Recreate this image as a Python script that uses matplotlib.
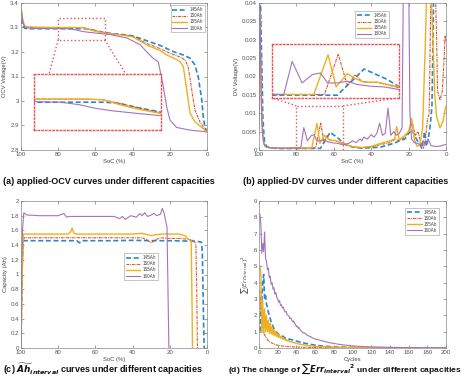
import matplotlib
matplotlib.use('Agg')
import matplotlib.pyplot as plt
from matplotlib.ticker import FuncFormatter, MultipleLocator
from matplotlib.patches import Rectangle

plt.rcParams['font.family'] = ['Liberation Sans', 'DejaVu Sans']
plt.rcParams['mathtext.fontset'] = 'dejavusans'

# ---------------- data ----------------
labels = ['145Ah', '150Ah', '155Ah', '160Ah']

# (a) OCV curves
soc_a_145 = [100, 99.5, 99, 98, 96, 90, 80, 70, 66, 63, 60, 55, 50, 45, 40, 32, 25, 18, 12, 9, 6.5, 4.7, 2.8, 2.0, 1.1, 0]
ocv_145 = [3.335, 3.32, 3.305, 3.297, 3.295, 3.295, 3.295, 3.295, 3.295, 3.293, 3.2872, 3.2793, 3.274, 3.271, 3.266,
           3.245, 3.226, 3.201, 3.186, 3.174, 3.147, 3.099, 3.004, 2.936, 2.89, 2.88]
soc_a_150 = [100, 99.5, 99, 98, 96, 90, 80, 70, 66.4, 63, 60, 55, 50, 45, 40, 32.4, 25, 19.9, 14, 11.8, 10.1, 8.2, 6.5, 3.8, 1.1, 0]
ocv_150 = [3.37, 3.35, 3.32, 3.305, 3.301, 3.300, 3.300, 3.300, 3.299, 3.293, 3.287, 3.278, 3.273, 3.270, 3.265,
           3.235, 3.213, 3.195, 3.178, 3.167, 3.14, 3.045, 2.963, 2.915, 2.884, 2.88]
soc_a_155 = [100, 99.5, 99, 98, 96, 90, 80, 70, 66.4, 63, 60, 55, 50, 45, 40, 32.4, 25, 21.7, 16, 14.5, 12.7, 10.9, 9.1, 6.5, 1.1, 0]
ocv_155 = [3.38, 3.36, 3.33, 3.306, 3.302, 3.301, 3.300, 3.300, 3.299, 3.291, 3.285, 3.277, 3.272, 3.268, 3.262,
           3.229, 3.205, 3.188, 3.168, 3.16, 3.14, 3.045, 2.95, 2.915, 2.881, 2.875]
soc_a_160 = [100, 99.5, 99, 98, 96, 90, 80, 74.7, 71.1, 67.8, 64.5, 59.9, 55, 52, 43, 36, 32.3, 28.9, 26.2, 25.3,
             23.5, 21.7, 19.9, 16.3, 9.1, 1.1, 0]
ocv_160 = [3.37, 3.35, 3.32, 3.302, 3.298, 3.296, 3.2958, 3.295, 3.2911, 3.2852, 3.2813, 3.2774, 3.2735, 3.271, 3.257,
           3.23, 3.2, 3.174, 3.16, 3.127, 3.058, 2.977, 2.922, 2.892, 2.881, 2.875, 2.873]

# (b) DV curves
soc_b_145 = [100, 99.6, 99.3, 99, 98.5, 98, 97.5, 97, 96, 94, 90, 85, 80, 67.2, 65.5, 61.9, 59.9, 57.3, 55, 50, 45, 40,
             35, 30, 27, 25, 22, 20, 18, 17, 15.5, 14, 13, 12, 11.5, 10.5, 9.5, 8.5, 7.5, 6.5, 5, 3, 1.5, 0.5, 0]
dv_145 = [0.011, 0.03, 0.045, 0.035, 0.023, 0.01, 0.005, 0.002, 0.001, 0.0006, 0.0004, 0.0004, 0.00044, 0.00044,
          0.00183, 0.00483, 0.00406, 0.00306, 0.00183, 0.0008, 0.0005, 0.0006, 0.0008, 0.0015, 0.002, 0.0025, 0.003,
          0.0045, 0.0055, 0.004, 0.0027, 0.0015, 0.0005, 0.003, 0.005, 0.001, 0.003, 0.0064, 0.012, 0.045, 0.05, 0.05,
          0.05, 0.045, 0.04]
soc_b_150 = [100, 99.6, 99.3, 99, 98.5, 98, 97.5, 97, 96, 94, 90, 85, 80, 69.7, 67.0, 65.2, 63.75, 62.4, 60.9, 59.3, 55,
             50, 45, 40, 35, 30, 27, 25, 22, 20, 18, 16.5, 15, 13.5, 12, 11, 10, 9, 8, 7, 6, 5, 4.5, 3.2, 2, 1, 0.5, 0]
dv_150 = [0.022, 0.036, 0.03, 0.02, 0.008, 0.004, 0.002, 0.0012, 0.0008, 0.0006, 0.0005, 0.0005, 0.00056, 0.00056,
          0.00733, 0.00206, 0.00389, 0.00278, 0.00261, 0.00261, 0.00167, 0.0008, 0.0006, 0.0008, 0.0015, 0.002, 0.003,
          0.0025, 0.0035, 0.005, 0.0075, 0.004, 0.005, 0.002, 0.0005, 0.003, 0.008, 0.01, 0.045, 0.05, 0.05, 0.03,
          0.016, 0.0136, 0.016, 0.025, 0.031, 0.03]
soc_b_155 = [100, 99.6, 99.3, 99, 98.5, 98, 97.5, 97, 96, 94, 90, 85, 80, 71.8, 69.0, 67.4, 65.2, 63.9, 61.9, 59.3, 55,
             50, 45, 40, 35, 30, 27.5, 26.4, 25, 22, 20, 18.4, 17, 15.5, 14, 12.5, 11, 10, 8.5, 7, 6, 5, 3.2, 1.5, 0.5, 0]
dv_155 = [0.03, 0.038, 0.032, 0.02, 0.01, 0.004, 0.002, 0.0012, 0.0008, 0.0006, 0.0005, 0.0005, 0.00056, 0.00056,
          0.00722, 0.00183, 0.00406, 0.00333, 0.00261, 0.00261, 0.00183, 0.0009, 0.0007, 0.001, 0.0018, 0.0025, 0.003,
          0.0064, 0.0028, 0.004, 0.005, 0.0086, 0.003, 0.001, 0.0015, 0.006, 0.03, 0.05, 0.05, 0.03, 0.015, 0.009,
          0.006, 0.008, 0.011, 0.012]
soc_b_160 = [100, 99.6, 99.3, 99, 98.5, 98, 97.5, 97, 96, 94, 90, 85, 80, 77.7, 76.05, 74.1, 72.1, 70.5, 69.1, 67.2,
             65.2, 63.2, 60.6, 58.0, 55, 52, 50, 48, 46, 45, 44, 42, 40, 38.5, 37, 35.5, 34, 32.5, 31, 29.5, 28, 26.5,
             25, 23.5, 22.8, 21.5, 20, 19.3, 18.4, 17, 15, 13, 11, 9.5, 8, 6, 4, 2, 0.5, 0]
dv_160 = [0.006, 0.038, 0.03, 0.02, 0.008, 0.004, 0.002, 0.0012, 0.0008, 0.0006, 0.0005, 0.0005, 0.00056, 0.00056,
          0.00611, 0.0025, 0.00389, 0.00417, 0.0025, 0.0025, 0.00278, 0.00222, 0.00194, 0.00183, 0.00139, 0.0018,
          0.0025, 0.002, 0.003, 0.0025, 0.0035, 0.003, 0.0042, 0.0035, 0.0045, 0.0073, 0.004, 0.0045, 0.0114, 0.004,
          0.005, 0.004, 0.0045, 0.006, 0.045, 0.05, 0.05, 0.01, 0.003, 0.002, 0.0018, 0.0012, 0.0015, 0.003, 0.0012,
          0.001, 0.001, 0.0012, 0.0015, 0.0015]

# (c) capacity curves
soc_c_145 = [100, 99.5, 99, 97, 90, 80, 70, 68.5, 67, 60, 50, 40, 30, 20, 10, 5, 3, 2.5, 1.8, 1.5]
cap_145 = [0, 1.0, 1.46, 1.46, 1.46, 1.46, 1.46, 1.43, 1.46, 1.46, 1.46, 1.465, 1.46, 1.46, 1.455, 1.45, 1.44, 1.3, 0.3, 0.0]
soc_c_150 = [100, 99.5, 98.8, 98, 90, 80, 70, 60, 50, 40, 35, 32, 30, 28, 25, 20, 15, 10, 7, 6, 5.5, 5.2, 5.0]
cap_150 = [0, 0.8, 1.48, 1.5, 1.5, 1.5, 1.5, 1.5, 1.5, 1.5, 1.5, 1.47, 1.43, 1.47, 1.5, 1.49, 1.49, 1.48, 1.46, 1.42, 0.8, 0.1, 0.0]
soc_c_155 = [100, 99.5, 98.8, 98, 90, 80, 75, 73.5, 72.5, 71.5, 70, 60, 50, 40, 35, 30, 25, 20, 15, 12, 10, 8.5, 8.0, 7.8]
cap_155 = [0, 0.9, 1.55, 1.55, 1.55, 1.55, 1.55, 1.57, 1.63, 1.56, 1.55, 1.55, 1.55, 1.55, 1.56, 1.53, 1.55, 1.55, 1.55,
           1.53, 1.48, 1.45, 0.5, 0.0]
soc_c_160 = [100, 99.6, 99.2, 98.5, 97, 90, 80, 77, 75.5, 74, 70, 60, 50, 47, 45.5, 44, 41, 38, 36, 35, 33.5, 32, 30,
             28.5, 27, 25, 24, 23, 22, 21.5, 20.8, 20.5]
cap_160 = [0, 1.2, 1.6, 1.84, 1.81, 1.80, 1.80, 1.83, 1.78, 1.79, 1.79, 1.79, 1.79, 1.76, 1.79, 1.75, 1.80, 1.78, 1.83,
           1.80, 1.84, 1.79, 1.81, 1.83, 1.80, 1.82, 1.90, 1.83, 1.70, 1.65, 0.5, 0.0]

# (d) sum of squared errors vs cycles
cyc_145 = [1, 2, 3, 4, 5, 6, 7, 8, 9, 10, 11, 12, 13, 14, 15, 16, 17, 18, 19, 20, 22, 24, 26, 28, 30, 32, 34, 36, 38,
           40, 43, 46, 50, 55, 60, 65, 70, 80, 90, 100, 120, 150, 200]
err_145 = [1.0, 2.2, 3.0, 4.0, 4.5, 3.0, 3.2, 2.7, 2.5, 2.2, 2.0, 1.8, 1.6, 1.5, 1.3, 1.2, 1.1, 1.05, 0.95, 0.9, 0.8,
           0.75, 0.7, 0.6, 0.62, 0.55, 0.52, 0.5, 0.45, 0.42, 0.38, 0.33, 0.28, 0.22, 0.18, 0.14, 0.11, 0.07, 0.05,
           0.03, 0.02, 0.01, 0.0]
cyc_150 = [1, 2, 3, 4, 5, 6, 7, 8, 10, 12, 14, 16, 18, 20, 25, 30, 40, 50, 60, 80, 100, 150, 200]
err_150 = [3.5, 2.3, 1.6, 1.2, 1.0, 0.8, 0.7, 0.6, 0.45, 0.35, 0.3, 0.25, 0.2, 0.17, 0.12, 0.09, 0.06, 0.04, 0.03,
           0.02, 0.01, 0.01, 0.0]
cyc_155 = list(range(1, 41)) + [45, 50, 55, 60, 70, 80, 100, 120, 150, 200]
err_155 = [5.0, 4.6, 1.0, 2.9, 0.9, 2.4, 1.0, 2.0, 1.0, 1.7, 0.9, 1.5, 0.85, 1.3, 0.8, 1.15, 0.75, 1.0, 0.7, 0.9,
           0.65, 0.8, 0.6, 0.7, 0.55, 0.62, 0.5, 0.55, 0.45, 0.5, 0.42, 0.45, 0.38, 0.4, 0.35, 0.36, 0.32, 0.33, 0.3,
           0.28, 0.22, 0.17, 0.13, 0.1, 0.07, 0.05, 0.03, 0.02, 0.01, 0.0]
cyc_160 = list(range(1, 61)) + [65, 70, 75, 80, 85, 90, 95, 100, 110, 120, 130, 140, 150, 160, 175, 200]
err_160 = [8.2, 7.5, 5.8, 6.4, 5.9, 7.1, 5.5, 5.3, 4.8, 4.9, 4.3, 4.4, 3.9, 4.0, 3.6, 3.7, 3.3, 3.4, 3.1, 3.0,
           2.8, 2.9, 2.6, 2.65, 2.45, 2.5, 2.3, 2.2, 2.25, 2.05, 2.0, 1.95, 1.8, 1.85, 1.7, 1.6, 1.65, 1.5, 1.45, 1.3,
           1.35, 1.2, 1.25, 1.1, 1.05, 1.0, 0.95, 0.9, 0.92, 0.85, 0.8, 0.78, 0.75, 0.7, 0.72, 0.65, 0.63, 0.6, 0.58,
           0.55, 0.48, 0.4, 0.33, 0.28, 0.23, 0.19, 0.16, 0.13, 0.09, 0.07, 0.05, 0.04, 0.03, 0.02, 0.015, 0.01]

# zoom boxes
a_zoom_x, a_zoom_y = (80, 55), (3.25, 3.34)
a_box_x, a_box_y = (93, 25), (2.88, 3.11)
b_zoom_x, b_zoom_y = (80, 55), (0.0, 0.012)
b_inset_ylim = (0.0, 0.009)
b_box_x, b_box_y = (93, 25), (0.0142, 0.0288)

# ---------------- style ----------------
colors = ['#2a86d1', '#d9541e', '#edb120', '#a274bd']
lstyles = [(0, (3, 1.6)), (0, (2.5, 0.8, 0.8, 0.8)), '-', '-']
lwidths = [1.2, 0.8, 1.0, 0.8]
box_color = '#e8505a'

W, H = 474, 387
fig = plt.figure(figsize=(W / 100, H / 100), dpi=100)


def px_axes(x0, y0, x1, y1):
    return fig.add_axes([x0 / W, 1 - y1 / H, (x1 - x0) / W, (y1 - y0) / H])


fmt = FuncFormatter(lambda v, p: f'{v:g}')


def style(ax):
    for s in ax.spines.values():
        s.set_color('#8a8a8a')
        s.set_linewidth(0.5)
    ax.tick_params(direction='in', length=2, width=0.4, labelsize=4.4, colors='#555555',
                   top=True, right=True, pad=1.5)
    ax.yaxis.set_major_formatter(fmt)
    ax.xaxis.set_major_formatter(fmt)


def draw(ax, xs, ys, **kw):
    for x, y, c, ls, lw, lab in zip(xs, ys, colors, lstyles, lwidths, labels):
        ax.plot(x, y, color=c, ls=ls, lw=lw, label=lab, **kw)


def legend(ax, bbox, loc='upper left'):
    lg = ax.legend(loc=loc, bbox_to_anchor=bbox, fontsize=3.3, handlelength=3.2, handletextpad=0.5,
                   borderpad=0.4, labelspacing=0.25, fancybox=False, framealpha=1)
    lg.get_frame().set_edgecolor('#999999')
    lg.get_frame().set_linewidth(0.4)
    for t in lg.get_texts():
        t.set_color('#444444')


def frac(ax, x, y):
    return ax.transAxes.inverted().transform(ax.transData.transform((x, y)))


def zoom_decor(ax, zx, zy, bx, by, ylim_in, xs, ys):
    ax.add_patch(Rectangle((min(zx), zy[0]), abs(zx[0] - zx[1]), zy[1] - zy[0], fill=False,
                           ec=box_color, ls=':', lw=1.0, zorder=5))
    yc = zy[1] if zy[0] == 0 else zy[0]
    ax.plot([zx[0], bx[0]], [yc, by[0]], color=box_color, ls=':', lw=1.0, zorder=5)
    ax.plot([zx[1], bx[1]], [yc, by[0]], color=box_color, ls=':', lw=1.0, zorder=5)
    p0 = frac(ax, bx[0], by[0])
    p1 = frac(ax, bx[1], by[1])
    ins = ax.inset_axes([p0[0], p0[1], p1[0] - p0[0], p1[1] - p0[1]])
    draw(ins, xs, ys)
    ins.set_xlim(*zx)
    ins.set_ylim(*ylim_in)
    ins.set_xticks([])
    ins.set_yticks([])
    for s in ins.spines.values():
        s.set_color(box_color)
        s.set_linestyle(':')
        s.set_linewidth(1.0)
    return ins


lab_kw = dict(fontsize=4.2, color='#444444')

# ---------------- panel (a) ----------------
axa = px_axes(21, 3, 207, 150)
style(axa)
draw(axa, [soc_a_145, soc_a_150, soc_a_155, soc_a_160], [ocv_145, ocv_150, ocv_155, ocv_160])
axa.set_xlim(100, 0)
axa.set_ylim(2.8, 3.4)
axa.yaxis.set_major_locator(MultipleLocator(0.1))
axa.xaxis.set_major_locator(MultipleLocator(20))
axa.set_xlabel('SoC (%)', labelpad=1.5, **lab_kw)
axa.set_ylabel('OCV Voltage(V)', labelpad=2, **lab_kw)
legend(axa, (1.0, 1.0), loc='upper right')
zoom_decor(axa, a_zoom_x, a_zoom_y, a_box_x, a_box_y, a_zoom_y,
           [soc_a_145, soc_a_150, soc_a_155, soc_a_160], [ocv_145, ocv_150, ocv_155, ocv_160])

# ---------------- panel (b) ----------------
axb = px_axes(259, 3, 446, 150)
style(axb)
draw(axb, [soc_b_145, soc_b_150, soc_b_155, soc_b_160], [dv_145, dv_150, dv_155, dv_160])
axb.set_xlim(100, 0)
axb.set_ylim(0, 0.04)
axb.yaxis.set_major_locator(MultipleLocator(0.005))
axb.xaxis.set_major_locator(MultipleLocator(20))
axb.set_xlabel('SoC (%)', labelpad=1.5, **lab_kw)
axb.set_ylabel('DV Voltage(V)', labelpad=2, **lab_kw)
legend(axb, (0.50, 0.96))
zoom_decor(axb, b_zoom_x, b_zoom_y, b_box_x, b_box_y, b_inset_ylim,
           [soc_b_145, soc_b_150, soc_b_155, soc_b_160], [dv_145, dv_150, dv_155, dv_160])

# ---------------- panel (c) ----------------
axc = px_axes(21, 201, 207, 348)
style(axc)
draw(axc, [soc_c_145, soc_c_150, soc_c_155, soc_c_160], [cap_145, cap_150, cap_155, cap_160])
axc.set_xlim(100, 0)
axc.set_ylim(0, 2)
axc.yaxis.set_major_locator(MultipleLocator(0.2))
axc.xaxis.set_major_locator(MultipleLocator(20))
axc.set_xlabel('SoC (%)', labelpad=1.5, **lab_kw)
axc.set_ylabel('Capacity (Ah)', labelpad=2, **lab_kw)
legend(axc, (0.54, 0.66))

# ---------------- panel (d) ----------------
axd = px_axes(259, 201, 446, 348)
style(axd)
draw(axd, [cyc_145, cyc_150, cyc_155, cyc_160], [err_145, err_150, err_155, err_160])
axd.set_xlim(0, 200)
axd.set_ylim(0, 9)
axd.yaxis.set_major_locator(MultipleLocator(1))
axd.xaxis.set_major_locator(MultipleLocator(20))
axd.set_xlabel('Cycles', labelpad=1.5, **lab_kw)
axd.set_ylabel(r'$\sum(Err_{interval})^2$', labelpad=2, **lab_kw)
legend(axd, (0.77, 0.97))

# ---------------- captions ----------------
cap_kw = dict(fontsize=6.5, fontweight='bold', color='#111111', va='center', ha='left')
fig.text(3 / W, 1 - 182 / H, '(a) applied-OCV curves under different capacities', **cap_kw)
fig.text(243 / W, 1 - 182 / H, '(b) applied-DV curves under different capacities', **cap_kw)
fig.text(3 / W, 1 - 369 / H,
         r'(c) $\widetilde{\mathbfit{Ah}}_{\mathbfit{interval}}$ curves under different capacities', **cap_kw)
cap_kw_d = dict(cap_kw, fontsize=6.1)
fig.text(228 / W, 1 - 369 / H,
         r'(d) The change of $\sum\mathbfit{Err}_{\mathbfit{interval}}{}^{\mathbf{2}}$ under different capacities',
         **cap_kw_d)

fig.savefig('out.png', dpi=100)
